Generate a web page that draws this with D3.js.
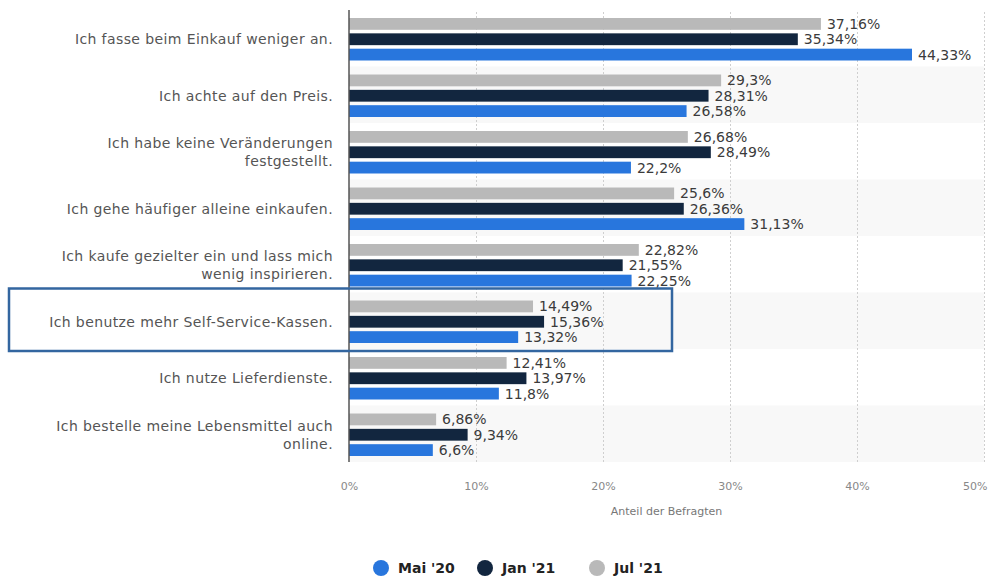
<!DOCTYPE html>
<html>
<head>
<meta charset="utf-8">
<script src="https://cdn.jsdelivr.net/npm/d3@7"></script>
<style>
  body { margin: 0; background: #fff; }
  svg { font-family: "DejaVu Sans", sans-serif; }
</style>
</head>
<body>
<svg id="chart"></svg>
<script>
// categories (label lines) and series
var categories = [
  ["Ich fasse beim Einkauf weniger an."],
  ["Ich achte auf den Preis."],
  ["Ich habe keine Veränderungen", "festgestellt."],
  ["Ich gehe häufiger alleine einkaufen."],
  ["Ich kaufe gezielter ein und lass mich", "wenig inspirieren."],
  ["Ich benutze mehr Self-Service-Kassen."],
  ["Ich nutze Lieferdienste."],
  ["Ich bestelle meine Lebensmittel auch", "online."]
];
var seriesNames = ["Mai '20", "Jan '21", "Jul '21"];
var mai20 = [44.33, 26.58, 22.2, 31.13, 22.25, 13.32, 11.8, 6.6];
var jan21 = [35.34, 28.31, 28.49, 26.36, 21.55, 15.36, 13.97, 9.34];
var jul21 = [37.16, 29.3, 26.68, 25.6, 22.82, 14.49, 12.41, 6.86];
var xTicks = [0, 10, 20, 30, 40, 50];
var highlighted = 5;

var colors = {"Mai '20": "#2876dd", "Jan '21": "#12263f", "Jul '21": "#b9b9b9"};
var values = {"Mai '20": mai20, "Jan '21": jan21, "Jul '21": jul21};

var W = 988, H = 577;
var svg = d3.select("#chart").attr("width", W).attr("height", H);

var x = d3.scaleLinear().domain([0, 50]).range([349, 984]);
var y = d3.scaleBand().domain(d3.range(categories.length)).range([10, 462]);
// bar order inside a row: Jul on top, Mai at bottom
var sub = d3.scaleBand().domain(["Jul '21", "Jan '21", "Mai '20"])
  .range([8, 50.5]).paddingInner(0.23).paddingOuter(0);

// alternating row backgrounds
svg.append("g").selectAll("rect")
  .data(d3.range(categories.length).filter(function(i) { return i % 2 == 1; }))
  .enter().append("rect")
  .attr("x", x(0))
  .attr("y", function(i) { return y(i); })
  .attr("width", x(50) - x(0))
  .attr("height", y.bandwidth())
  .attr("fill", "#f8f8f8");

// dotted grid
svg.append("g")
  .attr("transform", "translate(0," + y.range()[1] + ")")
  .call(d3.axisBottom(x).tickValues(xTicks.slice(1)).tickSize(-(y.range()[1] - y.range()[0])).tickFormat(""))
  .call(function(g) {
    g.select(".domain").remove();
    g.selectAll("line").attr("stroke", "#cfcfcf").attr("stroke-dasharray", "2,2");
  });

// bars
var rows = svg.append("g").selectAll("g")
  .data(d3.range(categories.length))
  .enter().append("g")
  .attr("transform", function(i) { return "translate(0," + y(i) + ")"; });

seriesNames.forEach(function(s) {
  rows.append("rect")
    .attr("x", x(0))
    .attr("y", sub(s))
    .attr("width", function(i) { return x(values[s][i]) - x(0); })
    .attr("height", sub.bandwidth())
    .attr("fill", colors[s]);

  rows.append("text")
    .attr("x", function(i) { return x(values[s][i]) + 6; })
    .attr("y", sub(s) + sub.bandwidth() / 2)
    .attr("dy", "0.36em")
    .attr("font-size", 14)
    .attr("fill", "#3b3b3b")
    .text(function(i) { return String(values[s][i]).replace(".", ",") + "%"; });
});

// y axis line
svg.append("line")
  .attr("x1", x(0)).attr("x2", x(0))
  .attr("y1", y.range()[0]).attr("y2", y.range()[1])
  .attr("stroke", "#555").attr("stroke-width", 1.5);

// category labels
var labels = svg.append("g").selectAll("text")
  .data(categories)
  .enter().append("text")
  .attr("text-anchor", "end")
  .attr("font-size", 14)
  .attr("letter-spacing", 0.4)
  .attr("fill", "#555")
  .attr("transform", function(d, i) {
    return "translate(333," + (y(i) + y.bandwidth() / 2 + 1 - (d.length - 1) * 9) + ")";
  });
labels.selectAll("tspan")
  .data(function(d) { return d; })
  .enter().append("tspan")
  .attr("x", 0)
  .attr("y", function(d, j) { return j * 18; })
  .attr("dy", "0.36em")
  .text(function(d) { return d; });

// x tick labels
svg.append("g")
  .attr("transform", "translate(0,479)")
  .call(d3.axisBottom(x).tickValues(xTicks).tickSize(0).tickFormat(function(d) { return d + "%"; }))
  .call(function(g) {
    g.select(".domain").remove();
    g.selectAll("text").attr("font-size", 11).attr("fill", "#888").attr("font-family", "DejaVu Sans, sans-serif");
    g.selectAll(".tick").filter(function(d) { return d == 50; })
      .select("text").attr("text-anchor", "end").attr("x", 3);
  });

svg.append("text")
  .attr("x", (x(0) + x(50)) / 2)
  .attr("y", 515)
  .attr("text-anchor", "middle")
  .attr("font-size", 11)
  .attr("fill", "#777")
  .text("Anteil der Befragten");

// highlight box
svg.append("rect")
  .attr("x", 9).attr("y", y(highlighted) - 4)
  .attr("width", 663).attr("height", y.bandwidth() + 6)
  .attr("fill", "none")
  .attr("stroke", "#3366a0")
  .attr("stroke-width", 2.5);

// legend
var legendX = [381, 485, 597];
var legend = svg.append("g").selectAll("g")
  .data(seriesNames)
  .enter().append("g")
  .attr("transform", function(d, i) { return "translate(" + legendX[i] + ",568)"; });
legend.append("circle").attr("r", 8).attr("fill", function(d) { return colors[d]; });
legend.append("text")
  .attr("x", 17)
  .attr("dy", "0.36em")
  .attr("font-size", 14)
  .attr("font-weight", "bold")
  .attr("fill", "#222")
  .text(function(d) { return d; });
</script>
</body>
</html>
